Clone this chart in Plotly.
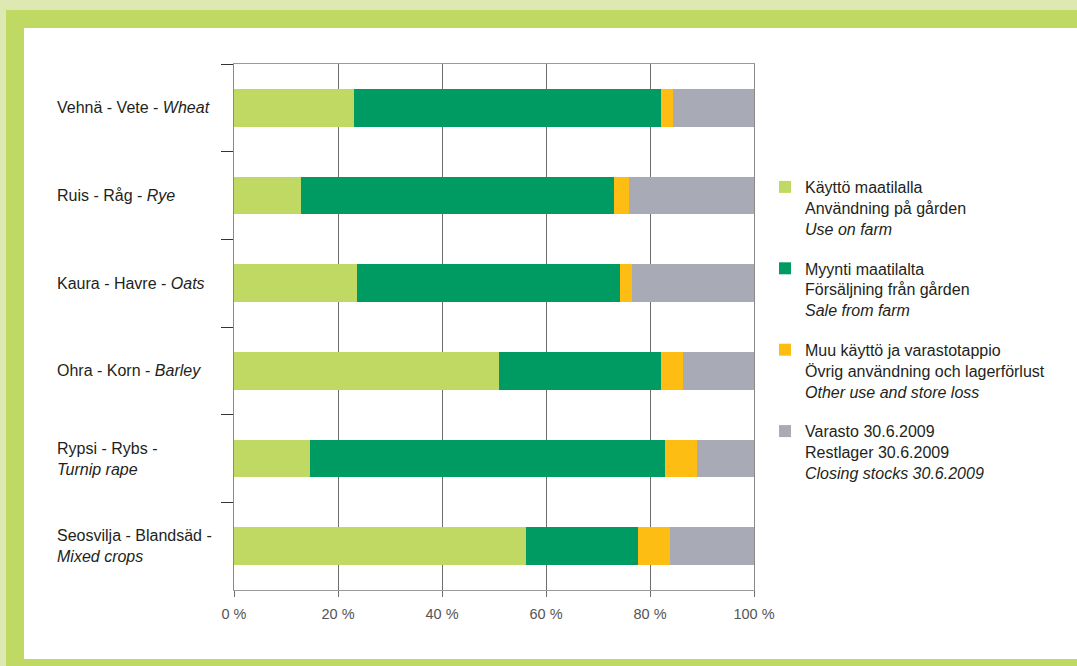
import plotly.graph_objects as go

# ---- data (percent of total use) ----
categories = ["Wheat", "Rye", "Oats", "Barley", "Turnip rape", "Mixed crops"]
category_labels = [
    "Vehnä - Vete - <i>Wheat</i>",
    "Ruis - Råg - <i>Rye</i>",
    "Kaura - Havre - <i>Oats</i>",
    "Ohra - Korn - <i>Barley</i>",
    "Rypsi - Rybs -<br><i>Turnip rape</i>",
    "Seosvilja - Blandsäd -<br><i>Mixed crops</i>",
]
use_on_farm = [23.1, 12.9, 23.7, 50.9, 14.7, 56.1]
sale_from_farm = [59.1, 60.2, 50.6, 31.3, 68.1, 21.6]
other_use_loss = [2.3, 2.9, 2.3, 4.1, 6.3, 6.2]
closing_stocks = [15.5, 24.0, 23.4, 13.7, 10.9, 16.1]

series_names = [
    "Käyttö maatilalla<br>Användning på gården<br><i>Use on farm</i>",
    "Myynti maatilalta<br>Försäljning från gården<br><i>Sale from farm</i>",
    "Muu käyttö ja varastotappio<br>Övrig användning och lagerförlust<br><i>Other use and store loss</i>",
    "Varasto 30.6.2009<br>Restlager 30.6.2009<br><i>Closing stocks 30.6.2009</i>",
]
series_values = [use_on_farm, sale_from_farm, other_use_loss, closing_stocks]
x_tickvals = [0, 20, 40, 60, 80, 100]
x_ticktext = ["0 %", "20 %", "40 %", "60 %", "80 %", "100 %"]

colors = ["#bfd962", "#009a63", "#fdbd12", "#a8aab5"]

W, H = 1077, 666
L, R, T, B = 234, 754, 64, 590  # plot area in px


def px_x(p):
    return (p - L) / (R - L)


def px_y(p):
    return (B - p) / (B - T)


FONT = "Liberation Sans, Arial, sans-serif"

fig = go.Figure()
for i, (name, vals) in enumerate(zip(series_names, series_values)):
    fig.add_trace(go.Bar(
        y=categories, x=vals, orientation="h", name=name,
        marker=dict(color=colors[i], line=dict(width=0)),
        legendgroup=f"g{i}",
    ))

shapes = [
    dict(type="rect", xref="paper", yref="paper", layer="below",
         x0=px_x(6), x1=px_x(W + 5), y0=px_y(H + 5), y1=px_y(10),
         fillcolor="#bfd962", line=dict(width=0)),
    dict(type="rect", xref="paper", yref="paper", layer="below",
         x0=px_x(24), x1=px_x(W + 5), y0=px_y(659), y1=px_y(28),
         fillcolor="#ffffff", line=dict(width=0)),
]

annotations = []
for cat, lab in zip(categories, category_labels):
    annotations.append(dict(
        xref="paper", yref="y", x=px_x(55), y=cat, text=lab,
        xanchor="left", yanchor="middle", align="left", showarrow=False,
        font=dict(family=FONT, size=16, color="#231f20"),
    ))

fig.update_layout(
    width=W, height=H,
    margin=dict(l=L, r=W - R, t=T, b=H - B, pad=0),
    paper_bgcolor="#dde9b1",
    plot_bgcolor="rgba(0,0,0,0)",
    barmode="stack",
    bargap=0.57,
    shapes=shapes,
    annotations=annotations,
    showlegend=True,
    legend=dict(
        x=px_x(765), y=px_y(170), xanchor="left", yanchor="top",
        font=dict(family=FONT, size=16, color="#231f20"),
        bgcolor="rgba(0,0,0,0)", valign="top", tracegroupgap=16,
        traceorder="grouped",
    ),
    xaxis=dict(
        range=[0, 100], tickmode="array", tickvals=x_tickvals, ticktext=x_ticktext,
        showgrid=True, gridcolor="#6e6e6e", gridwidth=1,
        showline=True, linecolor="#9a9a9a", linewidth=1, mirror=True,
        ticks="outside", ticklen=6, tickcolor="#6e6e6e",
        ticklabelstandoff=5,
        tickfont=dict(family=FONT, size=14.5, color="#555555"),
        zeroline=False, fixedrange=True,
    ),
    yaxis=dict(
        type="category", categoryorder="array", categoryarray=categories,
        autorange="reversed", showticklabels=False,
        tickson="boundaries", ticks="outside", ticklen=12, tickcolor="#333333",
        showline=True, linecolor="#8a8a8a", linewidth=1, mirror=True,
        showgrid=False, zeroline=False, fixedrange=True,
    ),
    font=dict(family=FONT),
)

fig.write_html(
    "out.html",
    config={"displayModeBar": False},
    post_script="document.body.style.margin='0';document.body.style.overflow='hidden';",
)
